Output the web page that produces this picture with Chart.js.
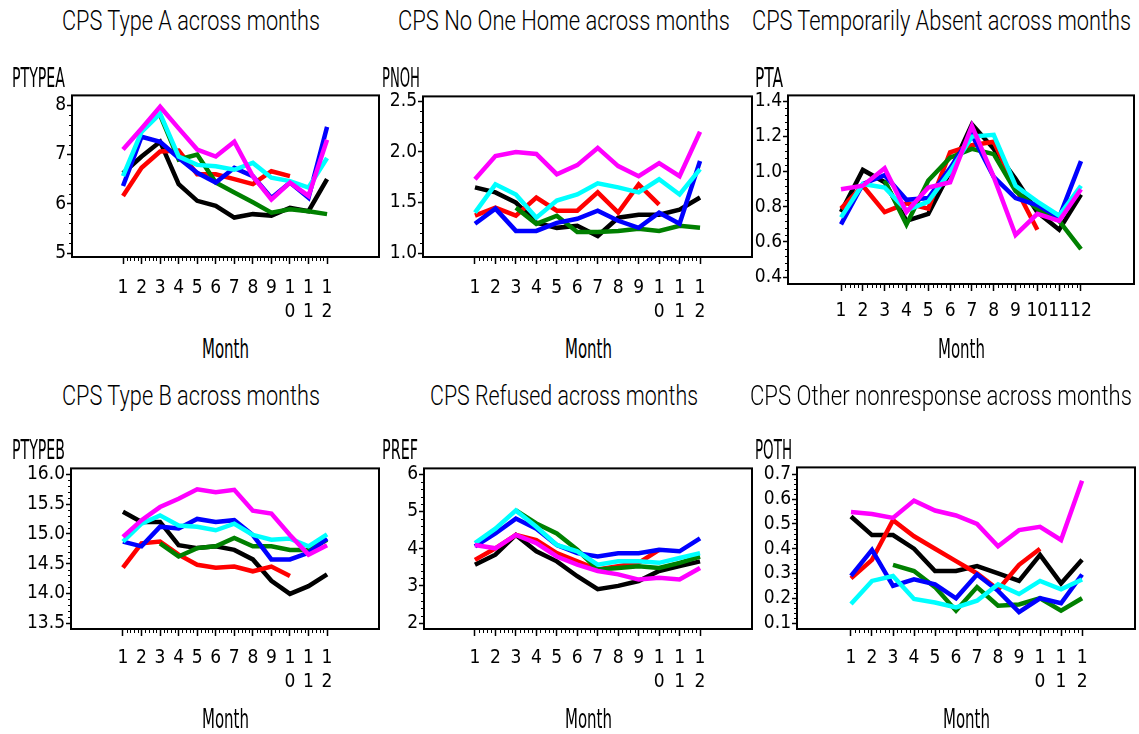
<!DOCTYPE html>
<html>
<head>
<meta charset="utf-8">
<title>CPS nonresponse across months</title>
<script src="https://cdn.jsdelivr.net/npm/chart.js@4.4.1/dist/chart.umd.min.js"></script>
<style>
  html, body { margin: 0; padding: 0; background: #fff; }
  body { position: relative; width: 1139px; height: 734px; overflow: hidden;
         font-family: "DejaVu Sans Condensed", "DejaVu Sans", sans-serif; }
  .t { position: absolute; white-space: nowrap; transform-origin: 0 0; color: #000; }
  .title { font-family: Roboto, "Liberation Sans", sans-serif; font-weight: 300; }
  canvas { position: absolute; }
</style>
</head>
<body>
<script>
// ---- data ----
const months = [1, 2, 3, 4, 5, 6, 7, 8, 9, 10, 11, 12];
const seriesColors = ['#000000', '#ff0000', '#008000', '#0000ff', '#00ffff', '#ff00ff'];

// PTYPEA
const typeA_black   = [6.62, 6.96, 7.26, 6.40, 6.06, 5.96, 5.72, 5.79, 5.76, 5.92, 5.85, 6.50];
const typeA_red     = [6.16, 6.73, 7.06, 7.08, 6.60, 6.60, 6.50, 6.40, 6.66, 6.56, null, null];
const typeA_green   = [null, null, 7.80, 6.90, 7.00, 6.43, 6.23, 6.03, 5.82, 5.89, 5.85, 5.79];
const typeA_blue    = [6.36, 7.36, 7.26, 6.93, 6.63, 6.43, 6.73, 6.56, 6.12, 6.43, 6.12, 7.56];
const typeA_cyan    = [6.56, 7.46, 7.83, 6.96, 6.79, 6.76, 6.69, 6.83, 6.53, 6.46, 6.33, 6.93];
const typeA_magenta = [7.10, 7.53, 7.97, 7.53, 7.10, 6.96, 7.26, 6.56, 6.09, 6.43, 6.16, 7.30];

// PNOH
const noh_black   = [1.65, 1.60, 1.50, 1.30, 1.25, 1.27, 1.17, 1.35, 1.38, 1.38, 1.43, 1.55];
const noh_red     = [1.37, 1.45, 1.37, 1.55, 1.42, 1.42, 1.60, 1.40, 1.68, 1.48, null, null];
const noh_green   = [null, null, 1.45, 1.29, 1.37, 1.21, 1.21, 1.22, 1.24, 1.22, 1.27, 1.25];
const noh_blue    = [1.29, 1.44, 1.22, 1.22, 1.30, 1.34, 1.42, 1.32, 1.25, 1.40, 1.29, 1.91];
const noh_cyan    = [1.40, 1.68, 1.58, 1.35, 1.52, 1.58, 1.69, 1.65, 1.60, 1.73, 1.58, 1.83];
const noh_magenta = [1.73, 1.96, 2.00, 1.98, 1.78, 1.87, 2.04, 1.86, 1.76, 1.89, 1.76, 2.20];

// PTA
const ta_black   = [0.77, 1.01, 0.94, 0.72, 0.76, 1.00, 1.27, 1.13, 0.96, 0.77, 0.67, 0.87];
const ta_red     = [0.79, 0.92, 0.77, 0.82, 0.79, 1.11, 1.15, 1.17, 0.91, 0.67, null, null];
const ta_green   = [null, null, 0.95, 0.70, 0.95, 1.08, 1.13, 1.10, 0.89, 0.79, 0.72, 0.56];
const ta_blue    = [0.70, 0.93, 0.98, 0.84, 0.85, 1.02, 1.21, 0.97, 0.85, 0.81, 0.74, 1.06];
const ta_cyan    = [0.74, 0.93, 0.91, 0.78, 0.83, 1.00, 1.20, 1.21, 0.92, 0.83, 0.75, 0.92];
const ta_magenta = [0.90, 0.92, 1.02, 0.77, 0.91, 0.94, 1.26, 0.97, 0.64, 0.76, 0.72, 0.90];

// PTYPEB
const typeB_black   = [15.37, 15.20, 15.20, 14.81, 14.76, 14.79, 14.73, 14.57, 14.21, 13.99, 14.12, 14.32];
const typeB_red     = [14.43, 14.84, 14.87, 14.65, 14.48, 14.43, 14.45, 14.37, 14.45, 14.29, null, null];
const typeB_green   = [null, null, 14.84, 14.62, 14.76, 14.79, 14.93, 14.79, 14.79, 14.73, 14.73, 14.90];
const typeB_blue    = [14.87, 14.79, 15.12, 15.09, 15.25, 15.20, 15.23, 14.98, 14.57, 14.57, 14.68, 14.92];
const typeB_cyan    = [14.87, 15.17, 15.31, 15.14, 15.12, 15.06, 15.17, 14.98, 14.90, 14.92, 14.79, 14.99];
const typeB_magenta = [14.95, 15.23, 15.45, 15.59, 15.75, 15.70, 15.74, 15.39, 15.34, 14.98, 14.65, 14.81];

// PREF
const ref_black   = [3.57, 3.84, 4.37, 3.93, 3.66, 3.26, 2.91, 3.00, 3.13, 3.40, 3.53, 3.66];
const ref_red     = [3.70, 4.01, 4.37, 4.23, 3.88, 3.66, 3.44, 3.53, 3.62, 3.97, null, null];
const ref_green   = [null, null, 5.03, 4.68, 4.41, 3.97, 3.44, 3.48, 3.53, 3.48, 3.62, 3.79];
const ref_blue    = [4.06, 4.41, 4.81, 4.54, 4.10, 3.88, 3.79, 3.88, 3.88, 3.97, 3.93, 4.28];
const ref_cyan    = [4.15, 4.54, 5.03, 4.59, 4.10, 3.93, 3.57, 3.66, 3.66, 3.62, 3.75, 3.88];
const ref_magenta = [4.10, 4.01, 4.37, 4.15, 3.79, 3.57, 3.40, 3.31, 3.17, 3.22, 3.17, 3.48];

// POTH
const oth_black   = [0.530, 0.455, 0.455, 0.400, 0.310, 0.310, 0.330, 0.300, 0.270, 0.375, 0.260, 0.355];
const oth_red     = [0.280, 0.355, 0.515, 0.450, 0.400, 0.350, 0.300, 0.235, 0.335, 0.400, null, null];
const oth_green   = [null, null, 0.335, 0.310, 0.245, 0.150, 0.245, 0.170, 0.175, 0.200, 0.150, 0.200];
const oth_blue    = [0.290, 0.395, 0.250, 0.276, 0.256, 0.200, 0.296, 0.230, 0.144, 0.200, 0.180, 0.296];
const oth_cyan    = [0.177, 0.270, 0.290, 0.197, 0.183, 0.163, 0.190, 0.256, 0.217, 0.270, 0.236, 0.276];
const oth_magenta = [0.548, 0.540, 0.524, 0.594, 0.554, 0.534, 0.500, 0.410, 0.475, 0.488, 0.435, 0.674];

// y tick labels of each panel
const typeA_ticks = [5, 6, 7, 8];
const noh_ticks   = [1.0, 1.5, 2.0, 2.5];
const ta_ticks    = [0.4, 0.6, 0.8, 1.0, 1.2, 1.4];
const typeB_ticks = [13.5, 14.0, 14.5, 15.0, 15.5, 16.0];
const ref_ticks   = [2, 3, 4, 5, 6];
const oth_ticks   = [0.1, 0.2, 0.3, 0.4, 0.5, 0.6, 0.7];

// ---- panel layout ----
const panels = [
  { title: 'CPS Type A across months', yName: 'PTYPEA',
    series: [typeA_black, typeA_red, typeA_green, typeA_blue, typeA_cyan, typeA_magenta],
    yTicks: typeA_ticks, dec: 0, twoLine: true,
    frame: [72, 93, 379, 257], x: [-1.75, 14.8], y: [4.92, 8.2], pad: 12,
    titleAt: [62, 10, 258], nameAt: [12, 68, 53], monthAt: [225, 338] },
  { title: 'CPS No One Home across months', yName: 'PNOH',
    series: [noh_black, noh_red, noh_green, noh_blue, noh_cyan, noh_magenta],
    yTicks: noh_ticks, dec: 1, twoLine: true,
    frame: [423, 94, 752, 257], x: [-1.54, 14.54], y: [0.962, 2.549], pad: 12,
    titleAt: [398, 10, 332], nameAt: [382, 68, 38], monthAt: [588, 338] },
  { title: 'CPS Temporarily Absent across months', yName: 'PTA',
    series: [ta_black, ta_red, ta_green, ta_blue, ta_cyan, ta_magenta],
    yTicks: ta_ticks, dec: 1, twoLine: false,
    frame: [788, 93, 1134, 284], x: [-1.43, 14.43], y: [0.361, 1.434], pad: 8,
    titleAt: [752, 10, 379], nameAt: [755, 68, 28], monthAt: [961, 338] },
  { title: 'CPS Type B across months', yName: 'PTYPEB',
    series: [typeB_black, typeB_red, typeB_green, typeB_blue, typeB_cyan, typeB_magenta],
    yTicks: typeB_ticks, dec: 1, twoLine: true,
    frame: [71, 466, 379, 629], x: [-1.8, 14.8], y: [13.4, 16.1], pad: 10,
    titleAt: [62, 385, 258], nameAt: [12, 440, 53], monthAt: [225, 708] },
  { title: 'CPS Refused across months', yName: 'PREF',
    series: [ref_black, ref_red, ref_green, ref_blue, ref_cyan, ref_magenta],
    yTicks: ref_ticks, dec: 0, twoLine: true,
    frame: [424, 466, 752, 629], x: [-1.49, 14.54], y: [1.84, 6.16], pad: 10,
    titleAt: [430, 385, 268], nameAt: [382, 440, 36], monthAt: [588, 708] },
  { title: 'CPS Other nonresponse across months', yName: 'POTH',
    series: [oth_black, oth_red, oth_green, oth_blue, oth_cyan, oth_magenta],
    yTicks: oth_ticks, dec: 1, twoLine: true,
    frame: [797, 465, 1135, 629], x: [-1.57, 14.52], y: [0.076, 0.728], pad: 10,
    titleAt: [750, 385, 382], nameAt: [755, 440, 37], monthAt: [966, 708] }
];

const FONT = '"DejaVu Sans Condensed", "DejaVu Sans", sans-serif';
const Y_AXIS_W = 64;
const X_AXIS_H = 75;
const TOP_PAD = 10;

// text squeezed to the width it has in the picture
function addText(txt, left, capTop, width, size, centered, cls) {
  const d = document.createElement('div');
  d.className = 't' + (cls ? ' ' + cls : '');
  d.textContent = txt;
  d.style.fontSize = size + 'px';
  d.style.lineHeight = size + 'px';
  d.style.top = (capTop - 0.117 * size) + 'px';
  document.body.appendChild(d);
  const w = d.getBoundingClientRect().width;
  d.style.left = (centered ? left - width / 2 : left) + 'px';
  d.style.transform = 'scaleX(' + (width / w) + ')';
}

// frame round the plot area plus the small ticks between labels
const framePlugin = {
  id: 'frameTicks',
  afterDraw(chart, args, opts) {
    const { ctx, chartArea } = chart;
    const xs = chart.scales.x, ys = chart.scales.y;
    ctx.save();
    ctx.strokeStyle = '#000';
    ctx.lineWidth = 1;
    ctx.beginPath();
    for (let i = 0; i < (months.length - 1) * 5; i++) {
      if (i % 5 === 0) continue;
      const px = Math.round(xs.getPixelForValue(months[0] + i / 5)) + 0.5;
      ctx.moveTo(px, chartArea.bottom);
      ctx.lineTo(px, chartArea.bottom + 4);
    }
    const yt = opts.yTicks;
    const step = (yt[1] - yt[0]) / 5;
    for (let i = 0; i < (yt.length - 1) * 5; i++) {
      if (i % 5 === 0) continue;
      const py = Math.round(ys.getPixelForValue(yt[0] + i * step)) + 0.5;
      ctx.moveTo(chartArea.left, py);
      ctx.lineTo(chartArea.left - 3, py);
    }
    ctx.stroke();
    ctx.lineWidth = 2;
    ctx.strokeRect(chartArea.left, chartArea.top, chartArea.right - chartArea.left, chartArea.bottom - chartArea.top);
    ctx.restore();
  }
};

function makePanel(p) {
  const [l, t, r, b] = p.frame;
  const canvas = document.createElement('canvas');
  const cw = (r - l) + Y_AXIS_W + 4;
  const ch = (b - t) + TOP_PAD + X_AXIS_H;
  canvas.width = cw;
  canvas.height = ch;
  canvas.style.left = (l - Y_AXIS_W) + 'px';
  canvas.style.top = (t - TOP_PAD) + 'px';
  canvas.style.width = cw + 'px';
  canvas.style.height = ch + 'px';
  document.body.appendChild(canvas);

  const datasets = p.series.map((vals, i) => ({
    data: months.map((m, j) => ({ x: m, y: vals[j] })),
    borderColor: seriesColors[i],
    backgroundColor: seriesColors[i],
    borderWidth: 4.5,
    pointRadius: 0,
    tension: 0,
    fill: false,
    spanGaps: false,
    order: seriesColors.length - i
  }));

  new Chart(canvas, {
    type: 'line',
    data: { datasets: datasets },
    options: {
      responsive: false,
      animation: false,
      layout: { padding: { top: TOP_PAD, right: 4, left: 0, bottom: 0 } },
      plugins: { legend: { display: false }, tooltip: { enabled: false }, frameTicks: { yTicks: p.yTicks } },
      scales: {
        x: {
          type: 'linear',
          min: p.x[0],
          max: p.x[1],
          afterBuildTicks: s => { s.ticks = months.map(v => ({ value: v })); },
          afterFit: s => { s.height = X_AXIS_H; },
          border: { display: false },
          grid: { drawOnChartArea: false, drawTicks: true, tickLength: 7, tickColor: '#000', tickWidth: 1.5 },
          ticks: {
            autoSkip: false, maxRotation: 0, minRotation: 0, padding: p.pad, color: '#000',
            font: { family: FONT, size: 19, lineHeight: 1.25 },
            callback: v => (p.twoLine && v >= 10) ? String(v).split('') : String(v)
          }
        },
        y: {
          type: 'linear',
          min: p.y[0],
          max: p.y[1],
          afterBuildTicks: s => { s.ticks = p.yTicks.map(v => ({ value: v })); },
          afterFit: s => { s.width = Y_AXIS_W; },
          border: { display: false },
          grid: { drawOnChartArea: false, drawTicks: true, tickLength: 5, tickColor: '#000', tickWidth: 1.5 },
          ticks: {
            autoSkip: false, padding: 1, color: '#000',
            font: { family: FONT, size: 19 },
            callback: v => v.toFixed(p.dec)
          }
        }
      }
    },
    plugins: [framePlugin]
  });

  addText(p.title, p.titleAt[0], p.titleAt[1], p.titleAt[2], 28, false, 'title');
  addText(p.yName, p.nameAt[0], p.nameAt[1], p.nameAt[2], 26, false);
  addText('Month', p.monthAt[0], p.monthAt[1], 47, 27, true);
}

panels.forEach(makePanel);
</script>
</body>
</html>
